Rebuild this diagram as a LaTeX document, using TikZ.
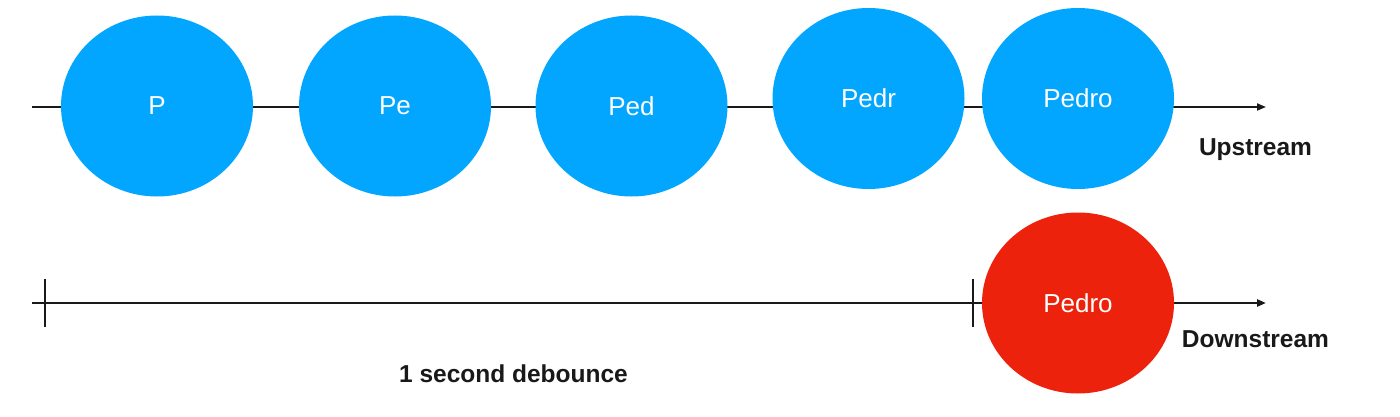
\documentclass[tikz,border=0pt]{standalone}
\usepackage{fontspec}
\setmainfont{Liberation Sans}
\usetikzlibrary{shapes.geometric,arrows.meta}
\definecolor{bubbleblue}{RGB}{3,166,255}
\definecolor{bubblered}{RGB}{237,34,12}
\tikzset{
  bubble/.style={ellipse, fill=bubbleblue, draw=none, minimum width=192pt, minimum height=181pt, inner sep=0pt, text=white, font=\fontsize{26}{30}\selectfont},
  redbubble/.style={bubble, fill=bubblered},
  streamline/.style={line width=1.8pt, draw=black!90, -{Triangle[length=9pt,width=7pt]}},
  tickmark/.style={draw=black!90},
  caption/.style={font=\bfseries\fontsize{24.5}{28}\selectfont, text=black!90, inner sep=0pt}
}
\begin{document}
\begin{tikzpicture}[x=1pt,y=-1pt]
\useasboundingbox (0,0) rectangle (1400,417);
% coordinates
\coordinate (us) at (32,107);
\coordinate (ue) at (1266,107);
\coordinate (ds) at (32,303);
\coordinate (de) at (1266,303);
\coordinate (t1a) at (45,279);
\coordinate (t1b) at (45,327);
\coordinate (t2a) at (973,279);
\coordinate (t2b) at (973,327);
% lines
\draw[streamline] (us) -- (ue);
\draw[streamline, line width=2.4pt] (ds) -- (de);
\draw[tickmark, line width=2.8pt] (t1a) -- (t1b);
\draw[tickmark, line width=1.2pt] (t2a) -- (t2b);
% bubbles
\node[bubble] (p) at (157,106) {P};
\node[bubble] (pe) at (395,106) {Pe};
\node[bubble] (ped) at (631.5,106) {Ped};
\node[bubble] (pedr) at (868.5,98.5) {Pedr};
\node[bubble] (pedro) at (1078,98.5) {Pedro};
\node[redbubble] (pedrod) at (1078,303) {Pedro};
% captions
\node[caption] (up) at (1255.5,150) {Upstream};
\node[caption] (down) at (1255.5,339) {Downstream};
\node[caption] (deb) at (513.5,374) {1 second debounce};
\end{tikzpicture}
\end{document}
